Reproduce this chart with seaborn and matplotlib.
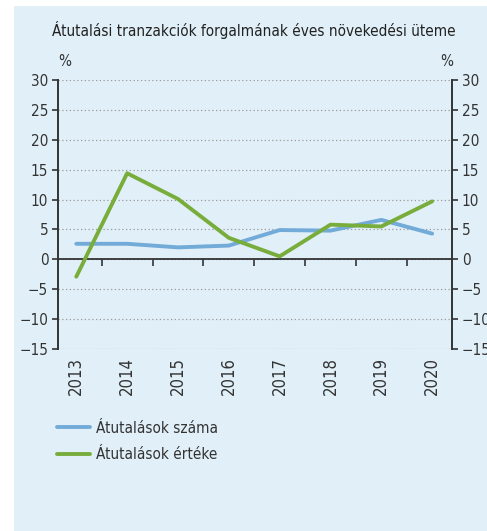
import seaborn as sns
import matplotlib.pyplot as plt
import pandas as pd
from matplotlib.patches import Rectangle

# Data (annual growth rate, %)
years = ["2013", "2014", "2015", "2016", "2017", "2018", "2019", "2020"]
szama = [2.6, 2.6, 2.0, 2.3, 4.9, 4.8, 6.6, 4.3]
erteke = [-2.9, 14.4, 10.1, 3.6, 0.5, 5.8, 5.5, 9.7]
y_ticks = [30, 25, 20, 15, 10, 5, 0, -5, -10, -15]

series_names = ["Átutalások száma", "Átutalások értéke"]
colors = ["#72abd8", "#78ad3c"]

df = pd.DataFrame({"pos": list(range(len(years))) * 2,
                   "value": szama + erteke,
                   "series": [series_names[0]] * len(years) + [series_names[1]] * len(years)})

sns.set_theme(style="white")
plt.rcParams['font.family'] = ['DejaVu Sans']
plt.rcParams['font.stretch'] = 'condensed'

bg = "#e1f0f8"
text_col = "#333333"

fig = plt.figure(figsize=(4.87, 5.31), dpi=100)
fig.patch.set_facecolor("white")
# light blue panel behind everything
fig.patches.append(Rectangle((14 / 487, 0), 1 - 14 / 487, 1 - 6 / 531,
                             transform=fig.transFigure, facecolor=bg, edgecolor="none", zorder=-5))

ax = fig.add_axes([58 / 487, 1 - 349 / 531, (452 - 58) / 487, (349 - 80) / 531])
ax.set_facecolor(bg)

sns.lineplot(data=df, x="pos", y="value", hue="series", palette=colors,
             linewidth=2.8, ax=ax, legend=False, zorder=3)

ax.set_xlim(-0.36, 7.39)
ax.set_ylim(-15, 30)
ax.set_yticks(y_ticks)
ax.set_yticklabels([str(v).replace("-", "\u2212") for v in y_ticks])
ax.grid(axis="y", color="#9a9a9a", linestyle=(0, (1, 2)), linewidth=0.9)
ax.set_axisbelow(True)

# zero line as bottom spine, with category separators as ticks
ax.spines["bottom"].set_position(("data", 0))
ax.spines["bottom"].set_color(text_col)
ax.spines["bottom"].set_linewidth(1.3)
ax.set_xticks([i + 0.5 for i in range(len(years) - 1)])
ax.set_xticklabels([])
ax.tick_params(axis="x", direction="out", length=5, width=1.2, color=text_col, bottom=True)
ax.spines["top"].set_visible(False)
for s in ["left", "right"]:
    ax.spines[s].set_color(text_col)
    ax.spines[s].set_linewidth(1.4)
ax.tick_params(axis="y", direction="out", length=4, width=1.2, color=text_col,
               labelsize=11, labelcolor=text_col, left=True, right=True,
               labelleft=True, labelright=True, pad=3)
ax.set_xlabel("")
ax.set_ylabel("")

# year labels at the bottom of the plot area
sec = ax.secondary_xaxis(0)
sec.set_xticks(range(len(years)))
sec.set_xticklabels(years, rotation=90, fontsize=12, color=text_col)
sec.tick_params(length=0, pad=6)
sec.spines["bottom"].set_visible(False)

fig.text(52 / 487, 1 - 30 / 531, "Átutalási tranzakciók forgalmának éves növekedési üteme",
         fontsize=11, color="#222222", va="center", ha="left")
fig.text(65 / 487, 1 - 61 / 531, "%", fontsize=11, color=text_col, va="center", ha="center")
fig.text(447 / 487, 1 - 61 / 531, "%", fontsize=11, color=text_col, va="center", ha="center")

handles = [plt.Line2D([], [], color=c, linewidth=2.8) for c in colors]
fig.legend(handles, series_names, loc="upper left", bbox_to_anchor=(43 / 487, 1 - 407 / 531),
           frameon=False, fontsize=11, handlelength=2.2, handletextpad=0.35,
           labelspacing=0.75, labelcolor=text_col)

fig.savefig("out.png", dpi=100, facecolor="white")
